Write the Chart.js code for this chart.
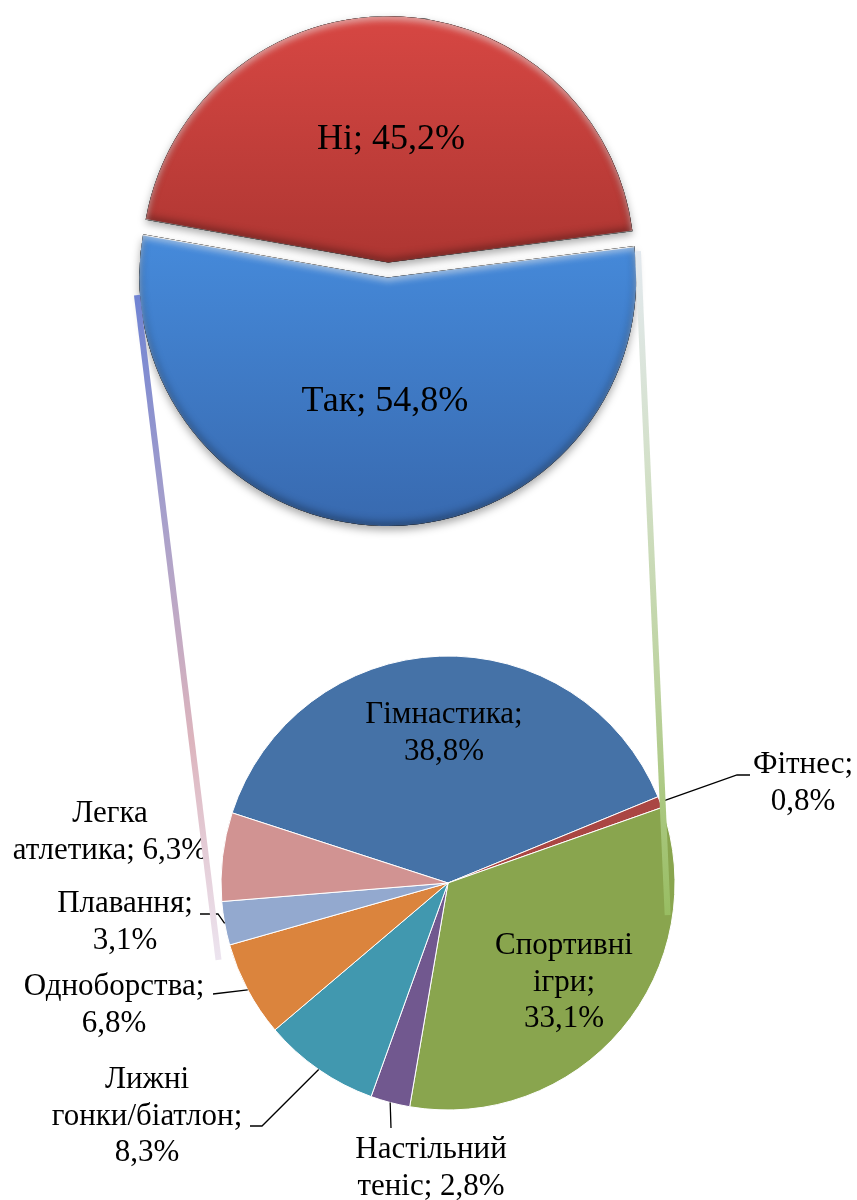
<!DOCTYPE html>
<html lang="uk">
<head>
<meta charset="utf-8">
<title>Заняття спортом</title>
<script src="https://cdn.jsdelivr.net/npm/chart.js@4.4.1/dist/chart.umd.min.js"></script>
<style>
  html, body { margin: 0; padding: 0; background: #fff; }
  #page { position: relative; width: 857px; height: 1200px; overflow: hidden; }
  .box { position: absolute; left: 0; width: 857px; height: 600px; }
  #topBox { top: 0; }
  #bottomBox { top: 600px; }
  #links { position: absolute; left: 0; top: 0; pointer-events: none; }
</style>
</head>
<body>
<div id="page">
  <div class="box" id="topBox"><canvas id="topChart"></canvas></div>
  <div class="box" id="bottomBox"><canvas id="bottomChart"></canvas></div>
  <canvas id="links" width="857" height="1200"></canvas>
</div>
<script>
'use strict';

// top pie: do they go in for sport
let answerLabels = ['Ні', 'Так'];
let answerValues = [45.2, 54.8];
let answerColors = [['#d94844', '#ae3632'], ['#4589d9', '#3767ac']];

// bottom pie: which sport (breakdown of "Так")
let sportLabels = ['Гімнастика', 'Фітнес', 'Спортивні ігри', 'Настільний теніс',
  'Лижні гонки/біатлон', 'Одноборства', 'Плавання', 'Легка атлетика'];
let sportValues = [38.8, 0.8, 33.1, 2.8, 8.3, 6.8, 3.1, 6.3];
let sportColors = ['#4572a7', '#aa4643', '#89a54e', '#71588f', '#4198af', '#db843d', '#93a9cf', '#d19392'];

let answerOffset = 30;
let labelFont = '31px "Liberation Serif"';
let answerFont = '36px "Liberation Serif"';
let lineHeight = 36.5;

// where the bottom labels sit (canvas px), words per line, leader elbows
let sportLabelLayout = [
  { x: 444, y: 123, lines: [1, 1] },
  { x: 803, y: 173, lines: [1, 1], leader: [[737, 175], [750, 175]] },
  { x: 564, y: 354, lines: [1, 1, 1] },
  { x: 431, y: 558, lines: [1, 2], leader: [[391, 528]] },
  { x: 147, y: 488, lines: [1, 1, 1], leader: [[262, 526], [250, 526]] },
  { x: 114, y: 395, lines: [1, 1], leader: [[213, 394]] },
  { x: 125, y: 312, lines: [1, 1], leader: [[218, 314], [200, 314]] },
  { x: 110, y: 222, lines: [1, 2] }
];

// connector lines between the "Так" slice and the bottom pie
let linkLayout = [
  { from: 176, fromScale: 1.012, to: 161.5, toScale: 1.066,
    stops: ['#6f83d3', '#a7a0cb', '#dcb4bd', '#ece4ef'] },
  { from: -6, fromScale: 1.012, to: 8.3, toScale: 0.978,
    stops: ['#e3e9ef', '#d3e0c8', '#bcd29e', '#98bd62'] }
];

function pct(v) {
  return v.toFixed(1).replace('.', ',') + '%';
}

function rad(deg) {
  return deg * Math.PI / 180;
}

// arc geometry as drawn, including the offset shift of ArcElement
function sliceShape(arc, offset) {
  let p = arc.getProps(['x', 'y', 'startAngle', 'endAngle', 'outerRadius', 'circumference']);
  let shift = offset / 4;
  let mid = (p.startAngle + p.endAngle) / 2;
  let fix = 1 - Math.sin(Math.min(Math.PI, p.circumference));
  return {
    x: p.x + Math.cos(mid) * shift,
    y: p.y + Math.sin(mid) * shift,
    r: p.outerRadius + shift * fix,
    start: p.startAngle,
    end: p.endAngle,
    mid: mid
  };
}

function answerFill(context) {
  let chart = context.chart;
  let area = chart.chartArea;
  let pair = answerColors[context.dataIndex];
  if (!area) return pair[0];
  let midY = (area.top + area.bottom) / 2;
  let y0 = context.dataIndex === 0 ? area.top + 10 : midY - 30;
  let y1 = context.dataIndex === 0 ? midY : area.bottom;
  let g = chart.ctx.createLinearGradient(0, y0, 0, y1);
  g.addColorStop(0, pair[0]);
  g.addColorStop(1, pair[1]);
  return g;
}

// drop shadow under the slices, bevel inside them, labels on top
let bevelPlugin = {
  id: 'bevel',
  beforeDatasetsDraw: function (chart) {
    let ctx = chart.ctx;
    ctx.save();
    ctx.shadowColor = 'rgba(0, 0, 0, 0.35)';
    ctx.shadowBlur = 9;
    ctx.shadowOffsetY = 4;
  },
  afterDatasetsDraw: function (chart) {
    let ctx = chart.ctx;
    ctx.restore();
    let arcs = chart.getDatasetMeta(0).data;
    arcs.forEach(function (arc, i) {
      let s = sliceShape(arc, answerOffset);
      ctx.save();
      ctx.beginPath();
      ctx.moveTo(s.x, s.y);
      ctx.arc(s.x, s.y, s.r, s.start, s.end);
      ctx.closePath();
      ctx.clip();

      ctx.beginPath();
      ctx.rect(-2000, -2000, 5000, 5000);
      ctx.moveTo(s.x, s.y);
      ctx.arc(s.x, s.y, s.r, s.start, s.end);
      ctx.closePath();
      ctx.fillStyle = '#000';

      ctx.shadowColor = 'rgba(0, 0, 0, 0.4)';
      ctx.shadowBlur = 10;
      ctx.shadowOffsetY = -3;
      ctx.fill('evenodd');

      ctx.shadowColor = 'rgba(255, 255, 255, 0.5)';
      ctx.shadowBlur = 6;
      ctx.shadowOffsetY = 4;
      ctx.fill('evenodd');
      ctx.restore();

      ctx.save();
      ctx.font = answerFont;
      ctx.fillStyle = '#000';
      ctx.textAlign = 'center';
      ctx.textBaseline = 'middle';
      let lx = s.x + Math.cos(s.mid) * s.r * 0.5;
      let ly = s.y + Math.sin(s.mid) * s.r * 0.5;
      ctx.fillText(answerLabels[i] + '; ' + pct(answerValues[i]), lx, ly);
      ctx.restore();
    });
  }
};

let sportLabelPlugin = {
  id: 'sportLabels',
  afterDatasetsDraw: function (chart) {
    let ctx = chart.ctx;
    let arcs = chart.getDatasetMeta(0).data;
    ctx.save();
    ctx.font = labelFont;
    ctx.fillStyle = '#000';
    ctx.strokeStyle = '#000';
    ctx.lineWidth = 1.3;
    ctx.textAlign = 'center';
    ctx.textBaseline = 'alphabetic';
    sportLabelLayout.forEach(function (lay, i) {
      if (lay.leader) {
        let p = arcs[i].getProps(['x', 'y', 'startAngle', 'endAngle', 'outerRadius']);
        let mid = (p.startAngle + p.endAngle) / 2;
        ctx.beginPath();
        ctx.moveTo(p.x + Math.cos(mid) * p.outerRadius, p.y + Math.sin(mid) * p.outerRadius);
        lay.leader.forEach(function (pt) { ctx.lineTo(pt[0], pt[1]); });
        ctx.stroke();
      }
      let words = (sportLabels[i] + '; ' + pct(sportValues[i])).split(' ');
      let k = 0;
      lay.lines.forEach(function (n, row) {
        let line = words.slice(k, k + n).join(' ');
        k += n;
        ctx.fillText(line, lay.x, lay.y + row * lineHeight);
      });
    });
    ctx.restore();
  }
};

let topChart = new Chart(document.getElementById('topChart'), {
  type: 'pie',
  data: {
    labels: answerLabels,
    datasets: [{
      data: answerValues,
      backgroundColor: answerFill,
      borderWidth: 0,
      offset: answerOffset,
      radius: 241
    }]
  },
  options: {
    responsive: true,
    maintainAspectRatio: false,
    animation: false,
    rotation: -80,
    layout: { padding: { left: 0, right: 81, top: 0, bottom: 60 } },
    plugins: { legend: { display: false }, tooltip: { enabled: false } }
  },
  plugins: [bevelPlugin]
});

let bottomChart = new Chart(document.getElementById('bottomChart'), {
  type: 'pie',
  data: {
    labels: sportLabels,
    datasets: [{
      data: sportValues,
      backgroundColor: sportColors,
      borderColor: '#ffffff',
      borderWidth: 1,
      radius: 227
    }]
  },
  options: {
    responsive: true,
    maintainAspectRatio: false,
    animation: false,
    rotation: -72,
    layout: { padding: { left: 39, right: 0, top: 0, bottom: 34 } },
    plugins: { legend: { display: false }, tooltip: { enabled: false } }
  },
  plugins: [sportLabelPlugin]
});

function drawLinks() {
  let ctx = document.getElementById('links').getContext('2d');
  let yes = sliceShape(topChart.getDatasetMeta(0).data[1], answerOffset);
  let first = bottomChart.getDatasetMeta(0).data[0];
  let bx = first.x;
  let by = first.y + 600;
  let br = first.outerRadius;
  linkLayout.forEach(function (l) {
    let x0 = yes.x + Math.cos(rad(l.from)) * yes.r * l.fromScale;
    let y0 = yes.y + Math.sin(rad(l.from)) * yes.r * l.fromScale;
    let x1 = bx + Math.cos(rad(l.to)) * br * l.toScale;
    let y1 = by + Math.sin(rad(l.to)) * br * l.toScale;
    let g = ctx.createLinearGradient(x0, y0, x1, y1);
    l.stops.forEach(function (c, j) { g.addColorStop(j / (l.stops.length - 1), c); });
    ctx.strokeStyle = g;
    ctx.lineWidth = 6;
    ctx.beginPath();
    ctx.moveTo(x0, y0);
    ctx.lineTo(x1, y1);
    ctx.stroke();
  });
}

drawLinks();
</script>
</body>
</html>
